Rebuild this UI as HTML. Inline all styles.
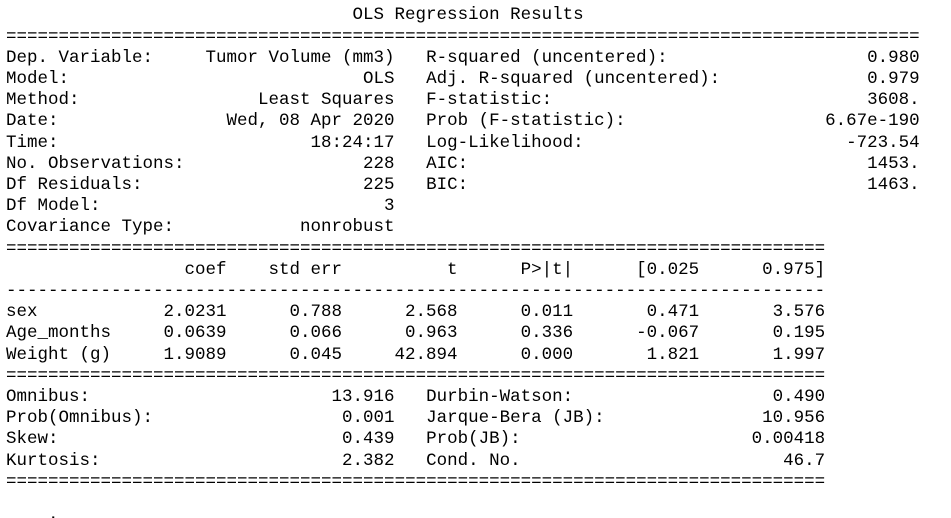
<!DOCTYPE html>
<html><head><meta charset="utf-8"><style>
html,body{margin:0;padding:0;background:#fff;width:951px;height:518px;overflow:hidden}
body{position:relative;font-family:"Liberation Mono","Courier New",monospace;font-size:17.5px;color:#000}
.ln{position:absolute;left:6px;height:21.2px;line-height:21.2px;white-space:pre;width:920px;margin-top:3px}
.ln span{position:absolute;top:0;white-space:pre}
.r{text-align:right;left:0}
</style></head><body>
<div class="ln" style="top:2.4px"><span style="left:33ch">OLS Regression Results</span></div>
<div class="ln" style="top:23.6px">=======================================================================================</div>

<div class="ln" style="top:44.8px"><span style="left:0">Dep. Variable:</span><span class="r" style="width:37ch">Tumor Volume (mm3)</span><span style="left:40ch">R-squared (uncentered):</span><span class="r" style="width:87ch">0.980</span></div>
<div class="ln" style="top:66px"><span style="left:0">Model:</span><span class="r" style="width:37ch">OLS</span><span style="left:40ch">Adj. R-squared (uncentered):</span><span class="r" style="width:87ch">0.979</span></div>
<div class="ln" style="top:87.2px"><span style="left:0">Method:</span><span class="r" style="width:37ch">Least Squares</span><span style="left:40ch">F-statistic:</span><span class="r" style="width:87ch">3608.</span></div>
<div class="ln" style="top:108.4px"><span style="left:0">Date:</span><span class="r" style="width:37ch">Wed, 08 Apr 2020</span><span style="left:40ch">Prob (F-statistic):</span><span class="r" style="width:87ch">6.67e-190</span></div>
<div class="ln" style="top:129.6px"><span style="left:0">Time:</span><span class="r" style="width:37ch">18:24:17</span><span style="left:40ch">Log-Likelihood:</span><span class="r" style="width:87ch">-723.54</span></div>
<div class="ln" style="top:150.8px"><span style="left:0">No. Observations:</span><span class="r" style="width:37ch">228</span><span style="left:40ch">AIC:</span><span class="r" style="width:87ch">1453.</span></div>
<div class="ln" style="top:172px"><span style="left:0">Df Residuals:</span><span class="r" style="width:37ch">225</span><span style="left:40ch">BIC:</span><span class="r" style="width:87ch">1463.</span></div>
<div class="ln" style="top:193.2px"><span style="left:0">Df Model:</span><span class="r" style="width:37ch">3</span></div>
<div class="ln" style="top:214.4px"><span style="left:0">Covariance Type:</span><span class="r" style="width:37ch">nonrobust</span></div>

<div class="ln" style="top:235.6px">==============================================================================</div>
<div class="ln" style="top:256.8px"><span class="r" style="width:21ch">coef</span><span class="r" style="width:32ch">std err</span><span class="r" style="width:43ch">t</span><span class="r" style="width:54ch">P&gt;|t|</span><span class="r" style="width:66ch">[0.025</span><span class="r" style="width:78ch">0.975]</span></div>
<div class="ln" style="top:278px">------------------------------------------------------------------------------</div>
<div class="ln" style="top:299.2px"><span style="left:0">sex</span><span class="r" style="width:21ch">2.0231</span><span class="r" style="width:32ch">0.788</span><span class="r" style="width:43ch">2.568</span><span class="r" style="width:54ch">0.011</span><span class="r" style="width:66ch">0.471</span><span class="r" style="width:78ch">3.576</span></div>
<div class="ln" style="top:320.4px"><span style="left:0">Age_months</span><span class="r" style="width:21ch">0.0639</span><span class="r" style="width:32ch">0.066</span><span class="r" style="width:43ch">0.963</span><span class="r" style="width:54ch">0.336</span><span class="r" style="width:66ch">-0.067</span><span class="r" style="width:78ch">0.195</span></div>
<div class="ln" style="top:341.6px"><span style="left:0">Weight (g)</span><span class="r" style="width:21ch">1.9089</span><span class="r" style="width:32ch">0.045</span><span class="r" style="width:43ch">42.894</span><span class="r" style="width:54ch">0.000</span><span class="r" style="width:66ch">1.821</span><span class="r" style="width:78ch">1.997</span></div>
<div class="ln" style="top:362.8px">==============================================================================</div>

<div class="ln" style="top:384px"><span style="left:0">Omnibus:</span><span class="r" style="width:37ch">13.916</span><span style="left:40ch">Durbin-Watson:</span><span class="r" style="width:78ch">0.490</span></div>
<div class="ln" style="top:405.2px"><span style="left:0">Prob(Omnibus):</span><span class="r" style="width:37ch">0.001</span><span style="left:40ch">Jarque-Bera (JB):</span><span class="r" style="width:78ch">10.956</span></div>
<div class="ln" style="top:426.4px"><span style="left:0">Skew:</span><span class="r" style="width:37ch">0.439</span><span style="left:40ch">Prob(JB):</span><span class="r" style="width:78ch">0.00418</span></div>
<div class="ln" style="top:447.6px"><span style="left:0">Kurtosis:</span><span class="r" style="width:37ch">2.382</span><span style="left:40ch">Cond. No.</span><span class="r" style="width:78ch">46.7</span></div>
<div class="ln" style="top:468.8px">==============================================================================</div>
<div class="ln" style="top:502px;left:48px">.</div>
</body></html>
